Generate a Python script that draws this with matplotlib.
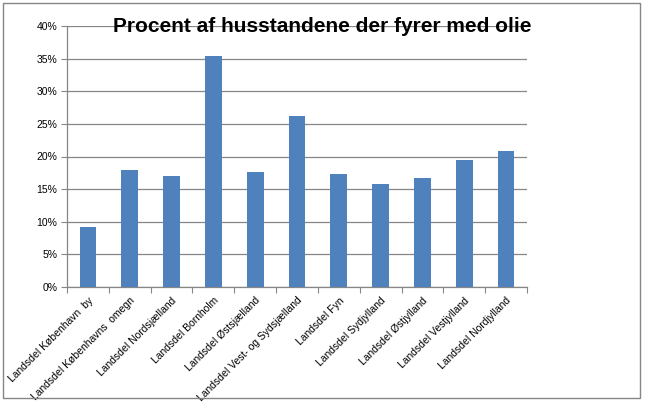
import matplotlib
matplotlib.use("Agg")
import matplotlib.pyplot as plt
from matplotlib.patches import Rectangle
from matplotlib.ticker import MultipleLocator, PercentFormatter

regions = ["Landsdel København  by", "Landsdel Københavns  omegn", "Landsdel Nordsjælland",
           "Landsdel Bornholm", "Landsdel Østsjælland", "Landsdel Vest- og Sydsjælland",
           "Landsdel Fyn", "Landsdel Sydjylland", "Landsdel Østjylland",
           "Landsdel Vestjylland", "Landsdel Nordjylland"]
oil_share = [9.2, 17.9, 17.0, 35.4, 17.6, 26.2, 17.3, 15.8, 16.7, 19.5, 20.8]

plt.rcParams['font.family'] = ['Liberation Sans', 'DejaVu Sans']
grey = '#868686'

fig = plt.figure(figsize=(6.45, 4.13), dpi=100)
ax = fig.add_axes([67/645, 1 - 287/413, 460/645, 261/413])

x = range(len(regions))
ax.bar(x, oil_share, width=0.4, color='#4F81BD', zorder=3)

ax.set_xlim(-0.5, len(regions) - 0.5)
ax.set_ylim(0, 40)
ax.yaxis.set_major_locator(MultipleLocator(5))
ax.yaxis.set_major_formatter(PercentFormatter(decimals=0))
ax.grid(axis='y', color=grey, linewidth=0.9, zorder=0)

for s in ['top', 'right']:
    ax.spines[s].set_visible(False)
for s in ['left', 'bottom']:
    ax.spines[s].set_color(grey)
    ax.spines[s].set_linewidth(0.9)

ax.set_xticks([i + 0.5 for i in range(-1, len(regions))], minor=False)
ax.set_xticklabels([])
ax.tick_params(axis='x', which='major', length=4, color=grey)
ax.set_xticks(list(x), minor=True)
ax.set_xticklabels(regions, minor=True, rotation=45, ha='right',
                   rotation_mode='anchor', fontsize=7.5)
ax.tick_params(axis='x', which='minor', length=0, pad=6)
ax.tick_params(axis='y', length=4, color=grey, labelsize=7.5, pad=3)

fig.text(322/645, 1 - 27/413, "Procent af husstandene der fyrer med olie",
         ha='center', va='center', fontsize=15, fontweight='bold')

fig.patches.append(Rectangle((3/645, 1 - 398/413), 637/645, 395/413,
                             transform=fig.transFigure, fill=False,
                             edgecolor=grey, linewidth=1))

fig.savefig("out.png", dpi=100)
